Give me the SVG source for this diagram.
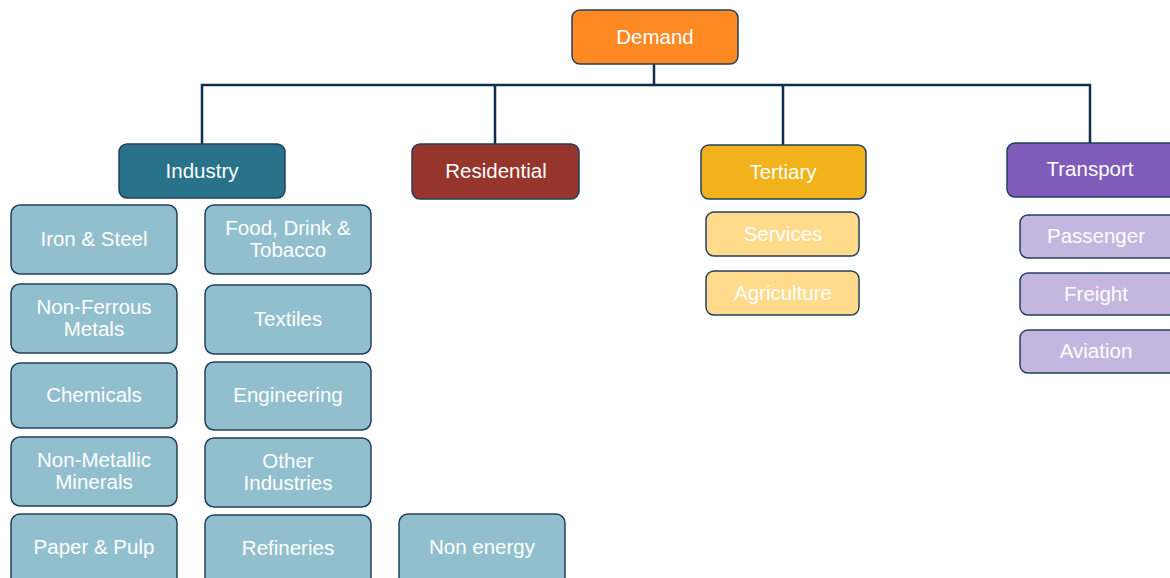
<svg xmlns="http://www.w3.org/2000/svg" width="1170" height="578" viewBox="0 0 1170 578">
<style>
.b{stroke:#243F5E;stroke-width:1.5}
.t{font-family:"Liberation Sans",Arial,sans-serif;font-size:20.5px;fill:#FFFFFF;text-anchor:middle}
.c{fill:#91BFCD}
.y{fill:#FFDB8B}
.p{fill:#C4B6DF}
.ln{fill:none;stroke:#0F2D4C;stroke-width:2.5}
</style>
<rect width="1170" height="578" fill="#FFFFFF"/>
<g id="connectors">
<path class="ln" d="M654 64V85M202 144V85H1090V143M495 85V144M783 85V145"/>
</g>
<g id="demand"><rect class="b" x="572" y="10" width="166" height="54" rx="8" fill="#FF8A24"/><text class="t" x="655" y="44">Demand</text></g>
<g id="industry"><rect class="b" x="119" y="144" width="166" height="54" rx="8" fill="#287389"/><text class="t" x="202" y="178">Industry</text></g>
<g id="residential"><rect class="b" x="412" y="144" width="167" height="55" rx="8" fill="#96352C"/><text class="t" x="496" y="178">Residential</text></g>
<g id="tertiary"><rect class="b" x="701" y="145" width="165" height="54" rx="8" fill="#F2B21C"/><text class="t" x="783" y="179">Tertiary</text></g>
<g id="transport"><rect class="b" x="1007" y="143" width="170" height="54" rx="8" fill="#7F5CBA"/><text class="t" x="1090" y="176">Transport</text></g>

<g id="iron-steel"><rect class="b c" x="11" y="205" width="166" height="69" rx="9"/><text class="t" x="94" y="246">Iron &amp; Steel</text></g>
<g id="non-ferrous"><rect class="b c" x="11" y="284" width="166" height="69" rx="9"/><text class="t" x="94" y="314">Non-Ferrous</text><text class="t" x="94" y="336">Metals</text></g>
<g id="chemicals"><rect class="b c" x="11" y="363" width="166" height="65" rx="9"/><text class="t" x="94" y="402">Chemicals</text></g>
<g id="non-metallic"><rect class="b c" x="11" y="437" width="166" height="69" rx="9"/><text class="t" x="94" y="467">Non-Metallic</text><text class="t" x="94" y="489">Minerals</text></g>
<g id="paper-pulp"><rect class="b c" x="11" y="514" width="166" height="72" rx="9"/><text class="t" x="94" y="554">Paper &amp; Pulp</text></g>

<g id="food-drink"><rect class="b c" x="205" y="205" width="166" height="69" rx="9"/><text class="t" x="288" y="235">Food, Drink &amp;</text><text class="t" x="288" y="257">Tobacco</text></g>
<g id="textiles"><rect class="b c" x="205" y="285" width="166" height="69" rx="9"/><text class="t" x="288" y="326">Textiles</text></g>
<g id="engineering"><rect class="b c" x="205" y="362" width="166" height="68" rx="9"/><text class="t" x="288" y="402">Engineering</text></g>
<g id="other-industries"><rect class="b c" x="205" y="438" width="166" height="69" rx="9"/><text class="t" x="288" y="468">Other</text><text class="t" x="288" y="490">Industries</text></g>
<g id="refineries"><rect class="b c" x="205" y="515" width="166" height="72" rx="9"/><text class="t" x="288" y="555">Refineries</text></g>
<g id="non-energy"><rect class="b c" x="399" y="514" width="166" height="72" rx="9"/><text class="t" x="482" y="554">Non energy</text></g>

<g id="services"><rect class="b y" x="706" y="212" width="153" height="44" rx="8"/><text class="t" x="783" y="241">Services</text></g>
<g id="agriculture"><rect class="b y" x="706" y="271" width="153" height="44" rx="8"/><text class="t" x="783" y="300">Agriculture</text></g>

<g id="passenger"><rect class="b p" x="1020" y="215" width="160" height="43" rx="8"/><text class="t" x="1096" y="243">Passenger</text></g>
<g id="freight"><rect class="b p" x="1020" y="273" width="160" height="42" rx="8"/><text class="t" x="1096" y="301">Freight</text></g>
<g id="aviation"><rect class="b p" x="1020" y="330" width="160" height="43" rx="8"/><text class="t" x="1096" y="358">Aviation</text></g>
</svg>
